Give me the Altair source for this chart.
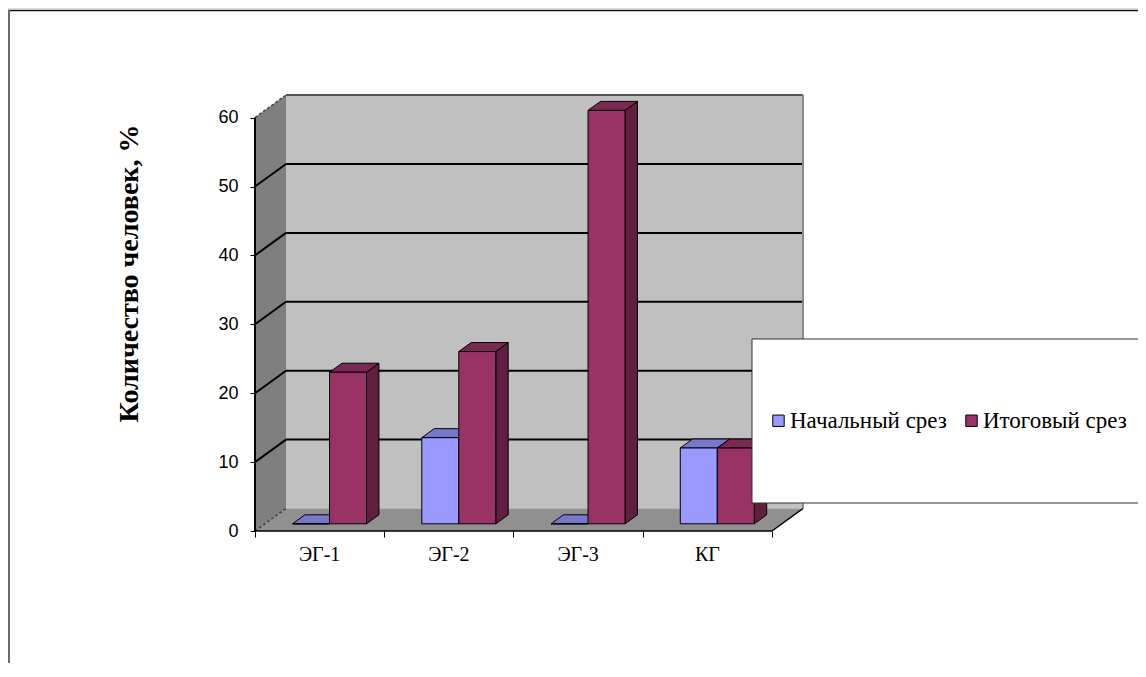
import altair as alt
import pandas as pd

# ---------------- data ----------------
categories = ["ЭГ-1", "ЭГ-2", "ЭГ-3", "КГ"]
series_names = ["Начальный срез", "Итоговый срез"]
initial = [0, 12.5, 0, 11]
final = [22, 25, 60, 11]
y_ticks = [0, 10, 20, 30, 40, 50, 60]
y_title = "Количество человек, %"

front_colors = ["#9999FF", "#993366"]
top_colors = ["#7777CC", "#7A2952"]
side_colors = ["#6666AA", "#611F40"]

SERIF = "Liberation Serif"
SANS = "Liberation Sans"

# ---------------- geometry (style) ----------------
W, H = 1130, 655
PXU = 129.25      # px per category
PXV = 6.89        # px per value unit
X0 = 247          # x px of the front value axis
Y0 = 523          # y px of the front zero line
du = 31 / PXU     # depth offset (x, in category units)
dv = 22.5 / PXV   # depth offset (y, in value units)
VMAX = y_ticks[-1]
NCAT = len(categories)
BW = 37 / PXU     # bar width
F0 = 0.32         # bar front depth fraction
FD = 0.40         # bar depth fraction

xscale = alt.Scale(domain=[-X0 / PXU, (W - X0) / PXU], nice=False, zero=False)
yscale = alt.Scale(domain=[-(H - Y0) / PXV, Y0 / PXV], nice=False, zero=False)

yaxis = alt.Axis(values=y_ticks, orient="left", offset=-X0, domain=False, grid=False,
                 tickSize=5, tickColor="black", tickWidth=1,
                 labelFont=SANS, labelFontSize=18, labelColor="black",
                 labelPadding=12, title=None)
xaxis = alt.Axis(values=list(range(NCAT + 1)), orient="bottom", offset=-(H - Y0),
                 domain=False, grid=False, labels=False, tickSize=6,
                 tickColor="black", tickWidth=1, title=None)


def X(f="x"):
    return alt.X(f"{f}:Q", scale=xscale, axis=xaxis, stack=False)


def Y(f="y"):
    return alt.Y(f"{f}:Q", scale=yscale, axis=yaxis, stack=False)


# ---------------- bars ----------------
rows, sides, tops = [], [], []
for i, c in enumerate(categories):
    for s, vals in enumerate([initial, final]):
        v = vals[i]
        u0 = i + 0.5 - BW + s * BW + F0 * du
        u1 = u0 + BW
        vb = F0 * dv
        vt = vb + v
        bid = f"{i}-{s}"
        rows.append(dict(cat=c, series=series_names[s], bar=bid, x=u0, x2=u1, y=vb, y2=vt))
        sides.append(dict(bar=bid, fill=side_colors[s], x=u1, y=vb, y2=vt))
        sides.append(dict(bar=bid, fill=side_colors[s], x=u1 + FD * du, y=vb + FD * dv, y2=vt + FD * dv))
        tops.append(dict(bar=bid, fill=top_colors[s], y=vt, x=u0, x2=u1))
        tops.append(dict(bar=bid, fill=top_colors[s], y=vt + FD * dv, x=u0 + FD * du, x2=u1 + FD * du))
bars = pd.DataFrame(rows)
sides = pd.DataFrame(sides)
tops = pd.DataFrame(tops)

# ---------------- walls ----------------
dummy = pd.DataFrame({"a": [0]})
back = pd.DataFrame([dict(x=du, x2=NCAT + du, y=dv, y2=VMAX + dv)])
leftwall = pd.DataFrame(dict(x=[0, du], y=[0, dv], y2=[VMAX, VMAX + dv]))
floor = pd.DataFrame(dict(y=[0, dv], x=[0, du], x2=[NCAT, NCAT + du]))
back_grid = pd.DataFrame([dict(x=du, x2=NCAT + du, y=t + dv, y2=t + dv) for t in y_ticks[1:-1]])
left_grid = pd.DataFrame([dict(x=0, x2=du, y=t, y2=t + dv) for t in y_ticks[1:-1]])
left_dash = pd.DataFrame([dict(x=0, x2=du, y=t, y2=t + dv) for t in [y_ticks[0], y_ticks[-1]]])
back_top = pd.DataFrame([dict(x=du, x2=NCAT + du, y=VMAX + dv, y2=VMAX + dv)])
back_right = pd.DataFrame([dict(x=NCAT + du, x2=NCAT + du, y=dv, y2=VMAX + dv)])
floor_edges = pd.DataFrame([dict(x=0, x2=NCAT, y=0, y2=0), dict(x=NCAT, x2=NCAT + du, y=0, y2=dv)])
axis_line = pd.DataFrame([dict(x=0, x2=0, y=0, y2=VMAX)])
cat_df = pd.DataFrame(dict(cat=categories, x=[i + 0.5 for i in range(NCAT)]))


def rule(df, color, width, dash=None):
    kw = dict(color=color, strokeWidth=width)
    if dash:
        kw["strokeDash"] = dash
    return alt.Chart(df).mark_rule(**kw).encode(x=X(), x2="x2:Q", y=Y(), y2="y2:Q")


frame_top = alt.Chart(dummy).mark_rule(color="#111", strokeWidth=1.5).encode(
    x=alt.value(0), x2=alt.value(W), y=alt.value(2.5))
frame_left = alt.Chart(dummy).mark_rule(color="#6a6a6a", strokeWidth=2).encode(
    x=alt.value(1), y=alt.value(2), y2=alt.value(H))

back_l = alt.Chart(back).mark_rect(fill="#C0C0C0").encode(x=X(), x2="x2:Q", y=Y(), y2="y2:Q")
left_l = alt.Chart(leftwall).mark_area(orient="vertical", fill="#7F7F7F").encode(x=X(), y=Y(), y2="y2:Q")
floor_l = alt.Chart(floor).mark_area(orient="horizontal", fill="#909090").encode(y=Y(), x=X(), x2="x2:Q")

side_l = alt.Chart(sides).mark_area(orient="vertical", stroke="black", strokeWidth=1).encode(
    x=X(), y=Y(), y2="y2:Q", detail="bar:N", color=alt.Color("fill:N", scale=None))
top_l = alt.Chart(tops).mark_area(orient="horizontal", stroke="black", strokeWidth=1).encode(
    y=Y(), x=X(), x2="x2:Q", detail="bar:N", color=alt.Color("fill:N", scale=None))
front_l = alt.Chart(bars).mark_rect(stroke="black", strokeWidth=1).encode(
    x=X(), x2="x2:Q", y=Y(), y2="y2:Q",
    fill=alt.Fill("series:N", scale=alt.Scale(domain=series_names, range=front_colors),
                  legend=alt.Legend(title=None, orient="none", legendX=759, legendY=401,
                                    direction="horizontal", symbolType="square", symbolSize=130,
                                    symbolStrokeColor="black", symbolStrokeWidth=1,
                                    labelFont=SERIF, labelFontSize=23, labelLimit=400,
                                    labelColor="black", columnPadding=13, labelOffset=0,
                                    padding=0)))

legend_box = alt.Chart(dummy).mark_rect(fill="white", stroke="#333", strokeWidth=1).encode(
    x=alt.value(744), x2=alt.value(1160), y=alt.value(331), y2=alt.value(495))

cat_l = alt.Chart(cat_df).mark_text(font=SERIF, fontSize=20, color="black",
                                    align="center", baseline="middle").encode(
    x=X(), y=alt.value(547), text="cat:N")
title_l = alt.Chart(dummy).mark_text(text=y_title, angle=270, font=SERIF,
                                     fontWeight="bold", fontSize=28, color="black",
                                     align="center", baseline="middle").encode(
    x=alt.value(121.5), y=alt.value(265.5))

chart = alt.layer(
    frame_top, frame_left,
    back_l, left_l, floor_l,
    rule(back_grid, "black", 2), rule(left_grid, "black", 2),
    rule(left_dash, "#444", 1.5, [3, 2]),
    rule(back_top, "#555", 2), rule(back_right, "#8a8a8a", 2),
    rule(floor_edges, "black", 1.5), rule(axis_line, "black", 2),
    side_l, top_l, front_l,
    legend_box, cat_l, title_l,
).properties(width=W, height=H, autosize=alt.AutoSizeParams(type="none"), padding=0
).configure_view(stroke=None).configure(background="white")

chart.save("out.html", embed_options={"renderer": "svg", "actions": False})
